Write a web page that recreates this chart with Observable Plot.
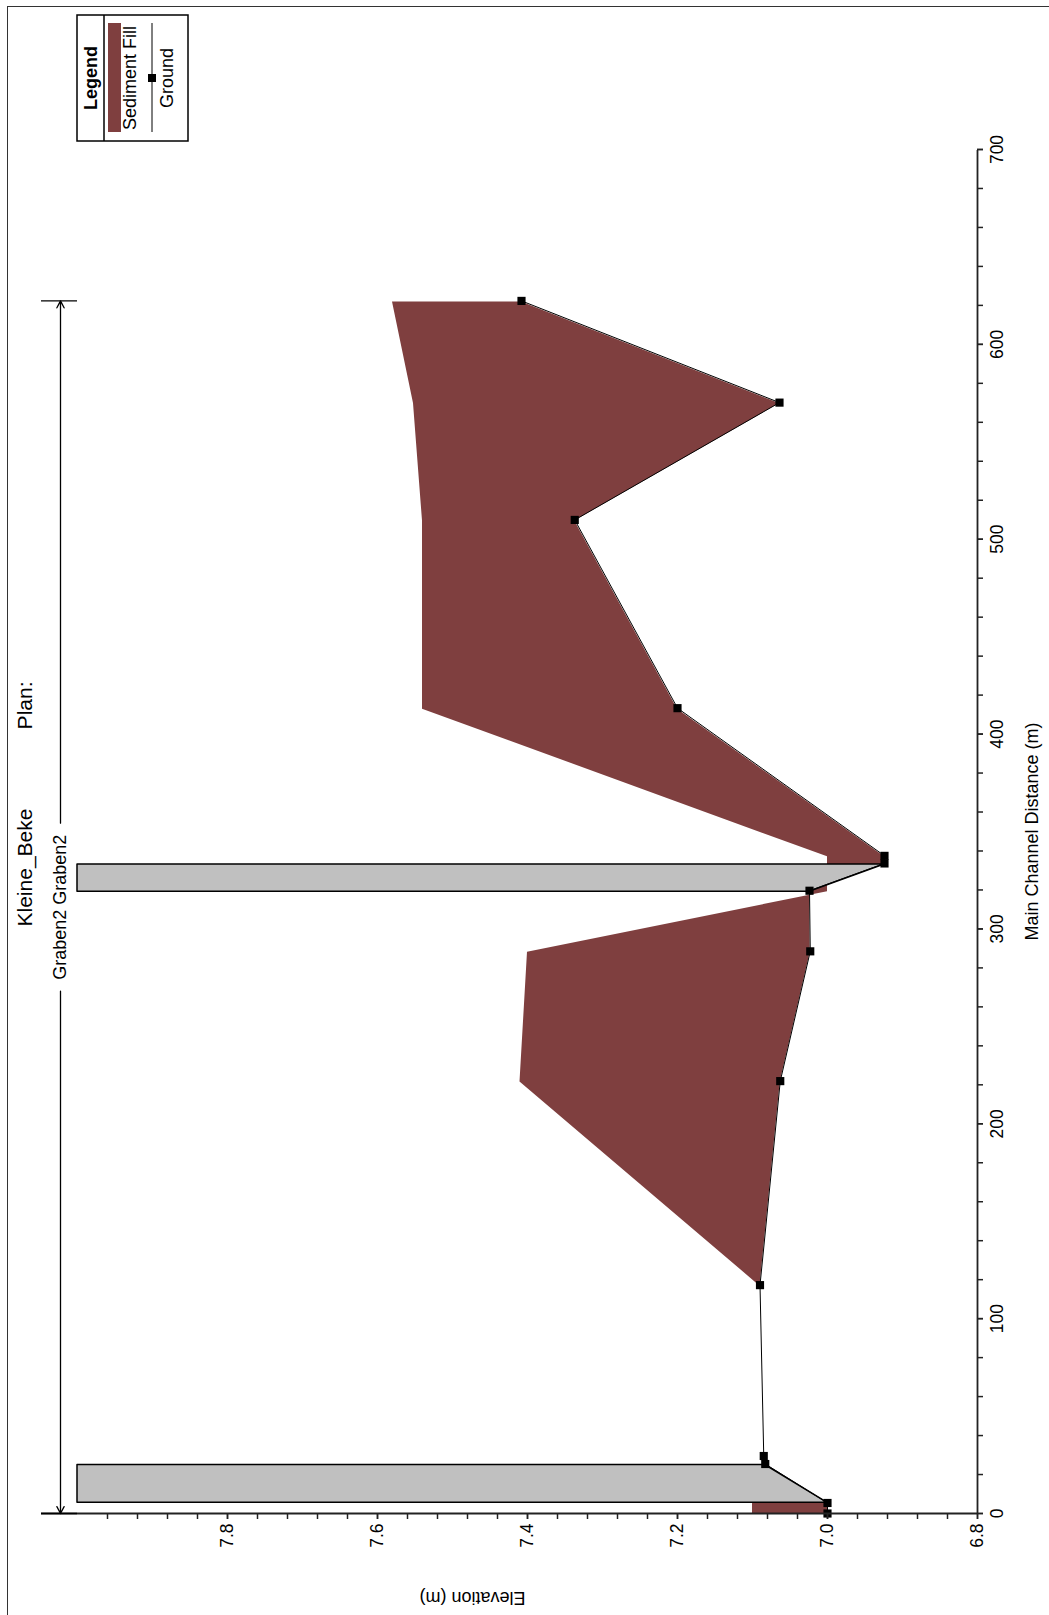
<!DOCTYPE html>
<html><head><meta charset="utf-8">
<script src="https://cdn.jsdelivr.net/npm/d3@7"></script>
<script src="https://cdn.jsdelivr.net/npm/@observablehq/plot@0.6"></script>
<style>
html,body{margin:0;padding:0;background:#fff;}
#page{position:relative;width:1049px;height:1615px;overflow:hidden;background:#fff;}
#bl{position:absolute;left:7px;top:6px;width:0;height:1620px;border-left:1.5px solid #333;z-index:5;}
#bt{position:absolute;left:7px;top:6px;width:1050px;height:0;border-top:1.5px solid #333;z-index:5;}
#rot{position:absolute;left:0;top:0;width:1615px;height:1049px;transform-origin:0 0;transform:translate(0,1615px) rotate(-90deg);z-index:1;}
</style></head><body>
<div id="page"><div id="rot"></div><div id="bl"></div><div id="bt"></div></div>
<script>
// ---- texts ----
const titleText = "Kleine_Beke";
const planText = "Plan:";
const reachText = "Graben2 Graben2";
const xLabel = "Main Channel Distance (m)";
const yLabel = "Elevation (m)";
const legendTitle = "Legend";
const seriesNames = ["Sediment Fill", "Ground"];
const seriesColors = ["#7f3f3f", "#000000"];

// ---- ground profile & sediment ----
const groundDist = [0, 5.4, 25.4, 29.5, 117.2, 221.9, 288.5, 319.6, 333.6, 337.5, 413.3, 509.9, 570.1, 622.3];
const groundElev = [7.0, 7.0, 7.083, 7.085, 7.09, 7.063, 7.023, 7.024, 6.924, 6.924, 7.2, 7.337, 7.064, 7.408];
const sedimentTop = [7.1, 7.1, 7.083, 7.085, 7.09, 7.41, 7.40, 7.0, 7.0, 7.0, 7.54, 7.54, 7.552, 7.58];

// ---- structures (grey blocks) ----
const structId = ["S1", "S1", "S2", "S2"];
const structDist = [6.0, 25.4, 319.6, 333.6];
const structLow = [7.0, 7.083, 7.024, 6.924];
const structTop = [8.0, 8.0, 8.0, 8.0];

// ---- axes ----
const xDomain = [0, 700];
const yDomain = [6.8, 8.048];
const xTicksMajor = [0, 100, 200, 300, 400, 500, 600, 700];
const xTicksMinor = [0, 20, 40, 60, 80, 100, 120, 140, 160, 180, 200, 220, 240, 260, 280, 300, 320, 340, 360, 380, 400, 420, 440, 460, 480, 500, 520, 540, 560, 580, 600, 620, 640, 660, 680, 700];
const yTicksMajor = [6.8, 7.0, 7.2, 7.4, 7.6, 7.8];
const yTicksMinor = [6.8, 6.84, 6.88, 6.92, 6.96, 7.0, 7.04, 7.08, 7.12, 7.16, 7.2, 7.24, 7.28, 7.32, 7.36, 7.4, 7.44, 7.48, 7.52, 7.56, 7.6, 7.64, 7.68, 7.72, 7.76, 7.8, 7.84, 7.88, 7.92, 7.96];

// ---- tables ----
const ground = groundDist.map((d, i) => ({dist: d, elev: groundElev[i], top: sedimentTop[i]}));
const structs = structDist.map((d, i) => ({id: structId[i], dist: d, low: structLow[i], top: structTop[i]}));

const W = 1615, H = 1049;
const mL = 101, mR = 150, mT = 41, mB = 72;
const pxPerElev = (H - mT - mB) / (yDomain[1] - yDomain[0]);
const dimY = structTop[0] + 17 / pxPerElev;          // dimension line height (layout)
const reachStart = d3.min(groundDist), reachEnd = d3.max(groundDist);
const reachMid = (reachStart + reachEnd) / 2;

const font = "'Liberation Sans', Arial, sans-serif";
const axisColor = "#222";

const plot = Plot.plot({
  width: W, height: H,
  marginLeft: mL, marginRight: mR, marginTop: mT, marginBottom: mB,
  x: {domain: xDomain, axis: null},
  y: {domain: yDomain, axis: null},
  style: {fontFamily: font, fontSize: "17.5px", color: "#000", background: "#fff", overflow: "visible"},
  marks: [
    Plot.areaY(ground, {x: "dist", y1: "elev", y2: "top", fill: seriesColors[0]}),
    Plot.areaY(structs, {x: "dist", y1: "low", y2: "top", z: "id", fill: "#c0c0c0", stroke: "#000", strokeWidth: 1.5}),
    Plot.line(ground, {x: "dist", y: "elev", stroke: "#000", strokeWidth: 1}),
    Plot.dot(ground, {x: "dist", y: "elev", symbol: "square", r: 4.6, fill: "#000", stroke: null}),
    // axis lines
    Plot.ruleY([yDomain[0]], {stroke: axisColor, strokeWidth: 1.8}),
    Plot.ruleX([xDomain[0]], {stroke: axisColor, strokeWidth: 1.8}),
    // axes
    Plot.axisX(xTicksMinor, {anchor: "bottom", tickSize: 6, fill: "none", label: null, stroke: axisColor, strokeWidth: 1.5}),
    Plot.axisX(xTicksMajor, {anchor: "bottom", tickSize: 6, tickPadding: 7, label: null, stroke: axisColor, strokeWidth: 1.5, fontSize: 17.5, fill: "#000", tickFormat: d => String(d)}),
    Plot.axisY(yTicksMinor, {anchor: "left", tickSize: 5, fill: "none", label: null, stroke: axisColor, strokeWidth: 1.5}),
    Plot.axisY(yTicksMajor, {anchor: "left", tickSize: 5, tickPadding: 5, label: null, stroke: axisColor, strokeWidth: 1.5, fontSize: 17.5, fill: "#000", tickFormat: d3.format(".1f")}),
    // axis titles
    Plot.text([xLabel], {frameAnchor: "bottom", dy: 55, text: d => d, fontSize: 18, fill: "#000", lineAnchor: "middle"}),
    Plot.text([yLabel], {frameAnchor: "left", dx: -84, dy: 16, rotate: -90, text: d => d, fontSize: 18, fill: "#000", lineAnchor: "middle"}),
    // title
    Plot.text([titleText], {frameAnchor: "top", dx: -95, dy: -16, text: d => d, textAnchor: "start", fontSize: 21, fill: "#000", lineAnchor: "middle"}),
    Plot.text([planText], {frameAnchor: "top", dx: 150, dy: -16, text: d => d, textAnchor: "end", fontSize: 21, fill: "#000", lineAnchor: "middle"}),
    // reach dimension line
    Plot.arrow([reachStart, reachEnd], {x1: () => reachMid, x2: d => d, y1: () => dimY, y2: () => dimY, insetStart: 84, headLength: 9, headAngle: 55, stroke: "#000", strokeWidth: 1.3}),
    Plot.ruleX([reachStart, reachEnd], {x: d => d, y1: structTop[0], y2: yDomain[1], stroke: "#000", strokeWidth: 1.3}),
    Plot.text([reachText], {x: () => reachMid, y: () => dimY, text: d => d, fontSize: 18, fill: "#000", lineAnchor: "middle"})
  ]
});

// legend box (drawn in the same svg, top-right)
const svg = d3.select(plot);
const lg = svg.append("g").attr("transform", "translate(1474,77)").attr("font-family", font).attr("fill", "#000");
const lw = 126, lh = 111;
lg.append("rect").attr("width", lw).attr("height", lh).attr("fill", "#fff").attr("stroke", "#000").attr("stroke-width", 1.5);
lg.append("line").attr("x1", 0).attr("x2", lw).attr("y1", 27).attr("y2", 27).attr("stroke", "#000").attr("stroke-width", 1.5);
lg.append("text").attr("x", lw / 2).attr("y", 14).attr("dy", "0.35em").attr("text-anchor", "middle").attr("font-weight", "bold").attr("font-size", 18).text(legendTitle);
lg.append("rect").attr("x", 9).attr("y", 31).attr("width", 109).attr("height", 13).attr("fill", seriesColors[0]);
lg.append("text").attr("x", lw / 2).attr("y", 53).attr("dy", "0.35em").attr("text-anchor", "middle").attr("font-size", 18).text(seriesNames[0]);
lg.append("line").attr("x1", 9).attr("x2", 118).attr("y1", 75).attr("y2", 75).attr("stroke", seriesColors[1]).attr("stroke-width", 1);
lg.append("rect").attr("x", lw / 2 - 4).attr("y", 71).attr("width", 8).attr("height", 8).attr("fill", seriesColors[1]);
lg.append("text").attr("x", lw / 2).attr("y", 90).attr("dy", "0.35em").attr("text-anchor", "middle").attr("font-size", 18).text(seriesNames[1]);

document.getElementById("rot").appendChild(plot);
</script>
</body></html>
